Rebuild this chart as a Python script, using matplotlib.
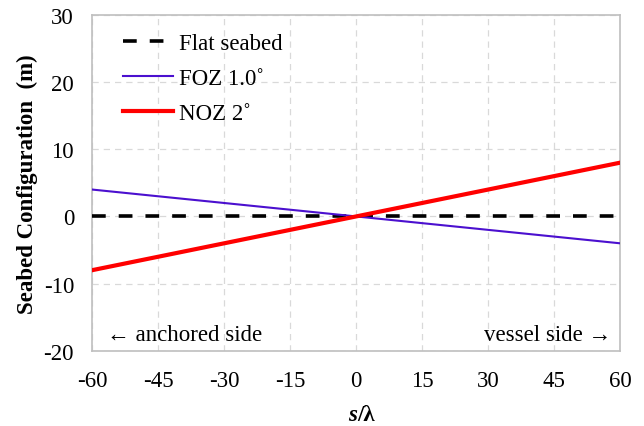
import numpy as np
import matplotlib
matplotlib.use('Agg')
import matplotlib.pyplot as plt

# data
s_lambda = [-60, 60]
flat = [0, 0]
foz = [4, -4]
noz = [-8, 8]
xticks = [-60, -45, -30, -15, 0, 15, 30, 45, 60]
yticks = [-20, -10, 0, 10, 20, 30]

plt.rcParams['font.family'] = ['Liberation Serif', 'DejaVu Serif']
plt.rcParams['axes.unicode_minus'] = False
fs = 16.5

fig = plt.figure(figsize=(6.44, 4.27), dpi=100)
ax = fig.add_axes([0.143, 0.176, 0.820, 0.787])

ax.plot(s_lambda, flat, color='black', lw=2.6, ls=(0, (3.8, 3.6)), label='Flat seabed', zorder=3)
ax.plot(s_lambda, foz, color='#4B10CF', lw=1.5, label='FOZ 1.0˚', zorder=3)
ax.plot(s_lambda, noz, color='#FF0000', lw=3, label='NOZ 2˚', zorder=4)

ax.set_xlim(-60, 60)
ax.set_ylim(-20, 30)
ax.set_xticks(xticks)
ax.set_yticks(yticks)
ax.tick_params(length=0, labelsize=fs)
ax.tick_params(axis='x', pad=14)
ax.tick_params(axis='y', pad=13)
ax.grid(True, color='#d9d9d9', ls=(0, (5, 4)), lw=0.9)
ax.set_axisbelow(True)
for sp in ax.spines.values():
    sp.set_color('#bfbfbf')
    sp.set_linewidth(1.2)

ax.set_ylabel('Seabed Configuration  (m)', fontsize=fs, fontweight='bold')
ax.yaxis.set_label_coords(-0.102, 0.5)

# x label: italic bold s, upright bold /λ
fig.text(0.555, 0.028, 's', fontsize=fs, fontweight='bold', fontstyle='italic',
         ha='right', va='center')
fig.text(0.555, 0.028, '/λ', fontsize=fs, fontweight='bold', ha='left', va='center')

ax.text(-56.5, -17.6, '← anchored side', fontsize=fs, ha='left', va='center')
ax.text(58, -17.6, 'vessel side →', fontsize=fs, ha='right', va='center')

ax.legend(loc='upper left', frameon=False, fontsize=fs, handlelength=2.2,
          handletextpad=0.25, bbox_to_anchor=(0.03, 0.99), borderaxespad=0.25,
          labelspacing=0.6)

fig.savefig('out.png', dpi=100)
